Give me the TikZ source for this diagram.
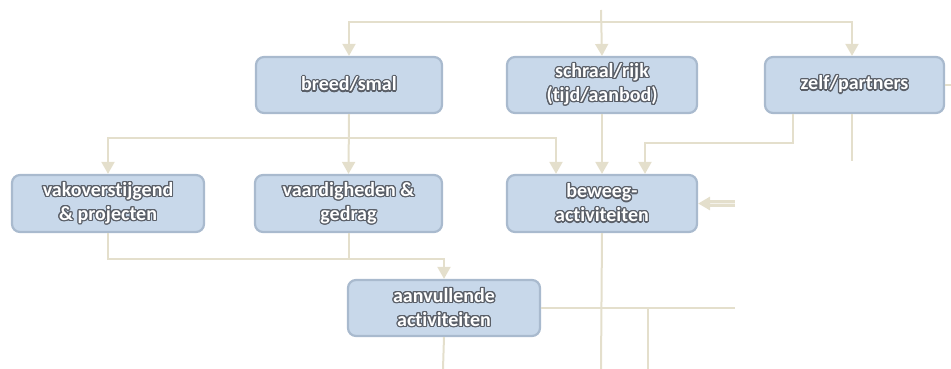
\documentclass[tikz,border=0pt]{standalone}
\usepackage{fontspec}
\setmainfont[RawFeature=-liga]{Carlito}
\usepackage{contour}
\contourlength{1.2pt}
\contournumber{16}
\usetikzlibrary{arrows.meta,calc}
\definecolor{boxfill}{HTML}{C8D8EA}
\definecolor{boxline}{HTML}{A9BACE}
\definecolor{conn}{HTML}{E4DFCC}
\definecolor{txtline}{HTML}{5A5F68}
\newcommand{\lbl}[1]{\contour{txtline}{\textcolor{white}{#1}}}
\tikzset{
  box/.style={draw=boxline, line width=2.2pt, fill=boxfill, rounded corners=8pt,
    minimum height=56pt, align=center, inner sep=2pt,
    font=\fontsize{20}{24}\selectfont\bfseries},
  ln/.style={draw=conn, line width=2pt},
  arr/.style={ln, -{Triangle[length=12pt,width=13pt]}},
}
\begin{document}
\begin{tikzpicture}[x=1pt,y=-1pt]
\useasboundingbox (0,0) rectangle (951,369);
% boxes
\node[box, minimum width=186pt] (breed) at (349,85) {\lbl{breed/smal}};
\node[box, minimum width=190pt] (schraal) at (602,85) {\lbl{schraal/rijk}\\\lbl{(tijd/aanbod)}};
\node[box, minimum width=179pt] (zelf) at (854.5,85) {\lbl{zelf/partners}};
\node[box, minimum width=192pt, minimum height=57pt] (vako) at (108,203.5) {\lbl{vakoverstijgend}\\\lbl{\& projecten}};
\node[box, minimum width=187pt, minimum height=57pt] (vaard) at (348.5,203.5) {\lbl{vaardigheden \&}\\\lbl{gedrag}};
\node[box, minimum width=190pt, minimum height=57pt] (beweeg) at (602,203.5) {\lbl{beweeg-}\\\lbl{activiteiten}};
\node[box, minimum width=192pt] (aanv) at (444,308) {\lbl{aanvullende}\\\lbl{activiteiten}};
% free ends
\coordinate (top) at (601,10);
\coordinate (topbar) at (601,22);
\coordinate (zright) at (951,85);
\coordinate (bin) at (735,203.5);
\coordinate (bbot) at (601,369);
\coordinate (aright) at (735,308);
\coordinate (abot) at (443,369);
\coordinate (fork) at (648,308);
\coordinate (forkbot) at (648,369);
% top level
\draw[arr] (top) -- (schraal.north);
\draw[arr] (topbar) -| (breed.north);
\draw[arr] (topbar) -| ([xshift=-2.5pt]zelf.north);
\draw[ln] (zelf.east) -- (zright);
% from breed
\draw[arr] (breed.south) -- ++(0,24) -| (vako.north);
\draw[arr] (breed.south) -- (vaard.north);
\draw[arr] (breed.south) -- ++(0,24) -| ([xshift=-46pt]beweeg.north);
% from schraal
\draw[arr] (schraal.south) -- (beweeg.north);
% from zelf
\draw[arr] ([xshift=-61.5pt]zelf.south) -- ++(0,29) -| ([xshift=43pt]beweeg.north);
\draw[ln] ([xshift=-2.5pt]zelf.south) -- ++(0,47);
% right input to beweeg
\draw[draw=conn, line width=3pt, double=conn!40!white, double distance=1pt,
  -{Triangle[length=12pt,width=13pt]}] (bin) -- (beweeg.east);
% to aanvullende
\draw[arr] (vako.south) -- ++(0,26) -| (aanv.north);
\draw[ln] (vaard.south) -- ++(0,26);
% bottom
\draw[ln] (beweeg.south) -- (bbot);
\draw[ln] (aanv.east) -- (aright);
\draw[ln] (fork) -- (forkbot);
\draw[ln] (aanv.south) -- (abot);
\end{tikzpicture}
\end{document}
